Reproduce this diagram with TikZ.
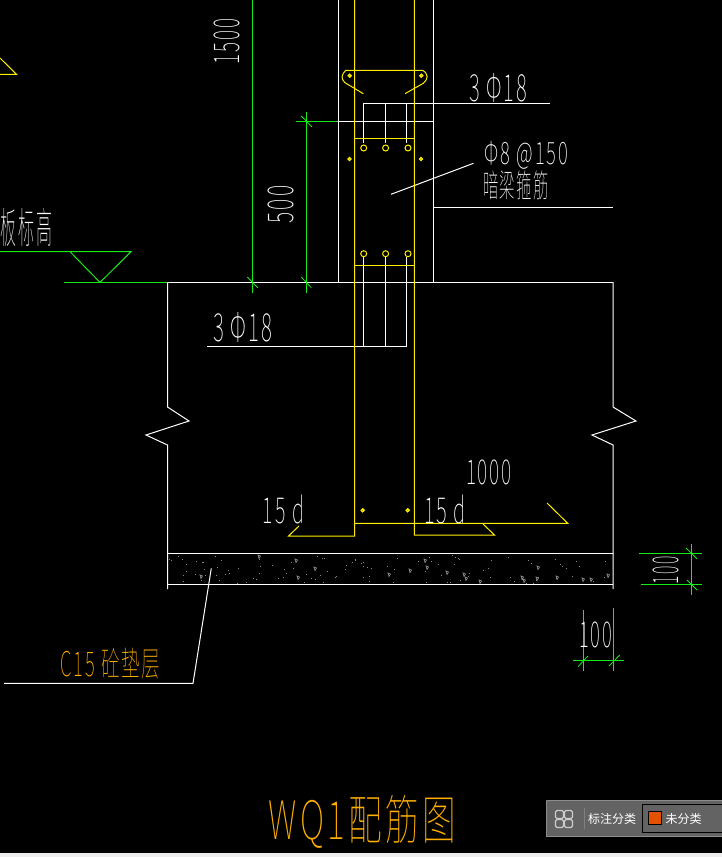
\documentclass[tikz,border=0pt]{standalone}
\usepackage{fontspec}
\usepackage{graphicx}
\newfontfamily\cad[LetterSpace=10]{Noto Sans CJK SC Thin}
\newfontfamily\ui{Noto Sans CJK SC}
\definecolor{cadgreen}{HTML}{14EE14}
\definecolor{cadyellow}{HTML}{FFF000}
\definecolor{cadorange}{HTML}{FFB000}
\definecolor{panelgray}{HTML}{636363}
\definecolor{speck}{HTML}{8A8A8A}
\definecolor{tagorange}{HTML}{E65100}
\definecolor{stripgray}{HTML}{EEEEEE}
\tikzset{
  wl/.style={draw=white,line width=1pt},
  yl/.style={draw=cadyellow,line width=1pt},
  gl/.style={draw=cadgreen,line width=1pt},
  gt/.style={draw=cadgreen,line width=.8pt},
  dotring/.style={draw=cadyellow,line width=1.3pt},
  ring/.style={draw=cadyellow,line width=1pt},
  lab/.style={inner sep=0pt,outer sep=0pt,text=white,anchor=center},
  olab/.style={lab,text=cadorange}
}
% width height text, sized to the exact box
\newcommand{\fit}[3]{\resizebox*{#1pt}{#2pt}{\cad #3}}
\begin{document}
\begin{tikzpicture}[x=1pt,y=-1pt]
\useasboundingbox (0,0) rectangle (722,857);
\fill[black] (0,0) rectangle (722,857);
\clip (0,0) rectangle (722,857);
% concrete speckle
\pgfmathsetseed{7}
\foreach \i in {1,...,110}{
  \pgfmathsetmacro{\sx}{169+rnd*442}
  \pgfmathsetmacro{\sy}{555+rnd*28}
  \fill[speck] (\sx,\sy) rectangle ++(1,1);
}
\foreach \px/\py in {258/555,295/559,424/559,409/569,388/573,463/573,426/566,446/571,479/580,465/577,523/579,536/577,607/574,537/566,521/576,590/578,556/576,582/578,297/576,314/567,200/575}{
  \draw[speck,line width=.7pt] (\px,\py) -- ++(2.5,1) -- ++(-1.5,2.5) -- cycle;
}
% wall and foundation
\draw[wl] (338.5,0) -- (338.5,282);
\draw[wl] (433,0) -- (433,282);
\draw[wl] (433,207.3) -- (613,207.3);
\draw[wl] (167,282.3) -- (613,282.3);
\draw[wl] (167.5,282) -- (167.5,407) -- (189,421) -- (146,435) -- (167.5,445) -- (167.5,589);
\draw[wl] (613,282) -- (613,407) -- (636,421) -- (592,435) -- (613,445) -- (613,589);
\draw[wl] (167,553.3) -- (613,553.3);
\draw[wl] (167,584.3) -- (613,584.3);
\draw[wl] (211.3,568.3) -- (193,683.3) -- (4,683.3);
% upper bars leader
\draw[wl] (550,103.3) -- (363.5,103.3) -- (363.5,143);
\draw[wl] (385.3,103.3) -- (385.3,143);
\draw[wl] (406.3,103.3) -- (406.3,143);
\draw[wl] (338,121.3) -- (433,121.3);
\draw[wl] (391,194.3) -- (473.5,163.3);
% lower bars leader
\draw[wl] (207,346.3) -- (406.3,346.3) -- (406.3,257);
\draw[wl] (385.3,346.3) -- (385.3,257);
\draw[wl] (363.5,346.3) -- (363.5,257);
% rebar
\draw[yl] (354.5,0) -- (354.5,536) -- (288.5,536) -- (299,526);
\draw[yl] (414.3,0) -- (414.3,535) -- (494.5,535) -- (483,524);
\draw[yl] (354.5,523.3) -- (567.7,523.3) -- (547,503);
\draw[yl] (354.5,138.3) -- (414.3,138.3);
\draw[yl] (354.5,265.5) -- (414.3,265.5);
\draw[yl] (363.3,93.7) -- (345,82.7) .. controls (341,79) and (341,75) .. (345.7,70.3) -- (422.7,70.3) .. controls (428.5,74) and (428.5,79) .. (423.3,83.3) -- (405,93.7);
\foreach \cx/\cy in {363.7/148,385.6/148,408/148,363.7/253.7,385.6/253.7,408/253.7}{
  \draw[ring] (\cx,\cy) circle (3);
}
\foreach \cx/\cy in {349.7/75.7,421.3/75.7,349.5/159,421/159,362.7/510.3,407.7/510.3}{
  \draw[dotring] (\cx,\cy) circle (1.5);
}
\draw[yl] (0,58) -- (16.5,74.3) -- (0,74.3);
% level symbol
\draw[gl] (0,251.7) -- (131,251.7) -- (100,282.4) -- (70,251.7);
\draw[gl] (64,282.4) -- (167,282.4);
% dimensions
\draw[gl] (252.3,0) -- (252.3,292.5);
\draw[gl] (306.3,112) -- (306.3,292.5);
\draw[gl] (296,121.3) -- (338,121.3);
\draw[gt] (247.3,277) -- (257.7,287.7);
\draw[gt] (301.3,277) -- (311.3,287.7);
\draw[gt] (301.3,116) -- (312,127);
\draw[gl] (639,553.3) -- (702,553.3);
\draw[gl] (641,584.3) -- (702,584.3);
\draw[gl] (691.3,544) -- (691.3,594.7);
\draw[gt] (686,548) -- (697,558.7);
\draw[gt] (687,580) -- (697,590);
\draw[gl] (583.3,610) -- (583.3,671);
\draw[gl] (613.3,608) -- (613.3,671);
\draw[gl] (573,660.3) -- (624,660.3);
\draw[gt] (578,666.7) -- (588,656);
\draw[gt] (609,666) -- (619.7,655);
% labels
\node[lab,rotate=90] (d1500) at (227,41.5) {\fit{46}{26}{1500}};
\node[lab,rotate=90] (d500) at (281,204.5) {\fit{38}{26}{500}};
\node[lab] (bar1) at (498,87.5) {\fit{58}{29}{3 Φ18}};
\node[lab] (stir) at (526.5,155.5) {\fit{83}{28}{Φ8 @150}};
\node[lab] (stirn) at (516,185) {\fit{66}{29}{暗梁箍筋}};
\node[lab] (bar2) at (242.5,327) {\fit{59}{30}{3 Φ18}};
\node[lab] (a15) at (283.5,509) {\fit{41}{29}{15 d}};
\node[lab] (b15) at (445,509) {\fit{42}{29}{15 d}};
\node[lab] (d1000) at (489,472.5) {\fit{46}{25}{1000}};
\node[lab,rotate=90] (d100a) at (666,570) {\fit{28}{26}{100}};
\node[lab] (d100b) at (595.5,635) {\fit{33}{26}{100}};
\node[lab] (level) at (26.5,227) {\fit{51}{38}{板标高}};
\node[olab] (c15) at (110.5,664) {\textcolor{cadorange}{\fit{100}{31}{C15 砼垫层}}};
\node[olab] (title) at (362.5,821.5) {\textcolor{cadorange}{\fit{187}{53}{WQ1配筋图}}};
% viewer panel
\fill[panelgray] (546,800) rectangle (722,837);
\draw[gray!90] (546.5,800.5) -- (722,800.5);
\draw[gray!90] (546.5,800.5) -- (546.5,836.5) -- (722,836.5);
\fill[stripgray] (0,853) rectangle (722,857);
\foreach \ix/\iy in {559.5/814.5,568.5/814.5,559.5/823.5,568.5/823.5}{
  \draw[white!80!black,line width=1.2pt,rounded corners=1.5pt] (\ix-4,\iy-4) rectangle (\ix+4,\iy+4);
}
\draw[gray] (584.5,808) -- (584.5,829);
\draw[black,line width=1pt] (642.5,804.5) rectangle (730,832);
\fill[tagorange] (648.5,811.5) rectangle (661.5,824.5);
\draw[black,line width=1pt] (648.5,811.5) rectangle (661.5,824.5);
\node[lab] (cat) at (612,819) {\ui\fontsize{12}{13}\selectfont 标注分类};
\node[lab] (none) at (683.5,819) {\ui\fontsize{12}{13}\selectfont 未分类};
\end{tikzpicture}
\end{document}
